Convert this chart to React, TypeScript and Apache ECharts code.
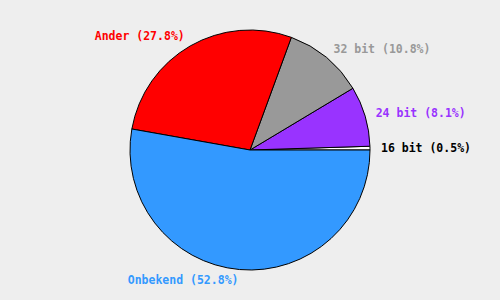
import React, { useEffect, useRef } from "react";
import * as echarts from "echarts";

const categories = ["16 bit", "24 bit", "32 bit", "Ander", "Onbekend"];
const values = [0.5, 8.1, 10.8, 27.8, 52.8];
const sliceColors = ["#ffffff", "#9933ff", "#999999", "#ff0000", "#3399ff"];
const labelColors = ["#000000", "#9933ff", "#999999", "#ff0000", "#3399ff"];

export default function App() {
  const ref = useRef<HTMLDivElement>(null);
  useEffect(() => {
    document.body.style.margin = "0";
    const chart = echarts.init(ref.current!, null, { renderer: "svg" });
    chart.setOption({
      animation: false,
      backgroundColor: "#eeeeee",
      series: [
        {
          type: "pie",
          center: [250, 150],
          radius: [0, 120],
          startAngle: 0,
          clockwise: false,
          avoidLabelOverlap: false,
          minAngle: 0,
          percentPrecision: 1,
          itemStyle: { borderColor: "#000000", borderWidth: 1 },
          emphasis: { disabled: true },
          label: {
            show: true,
            position: "outside",
            formatter: (p: any) => `${p.name} (${p.value.toFixed(1)}%)`,
            fontFamily: "DejaVu Sans Mono",
            fontWeight: "bold",
            fontSize: 11.5,
            distanceToLabelLine: 0,
          },
          labelLine: { show: false, length: 11, length2: 0 },
          data: categories.map((name, i) => ({
            name,
            value: values[i],
            itemStyle: { color: sliceColors[i] },
            label: { color: labelColors[i] },
          })),
        },
      ],
    });
    return () => chart.dispose();
  }, []);
  return <div ref={ref} style={{ width: 500, height: 300 }} />;
}
